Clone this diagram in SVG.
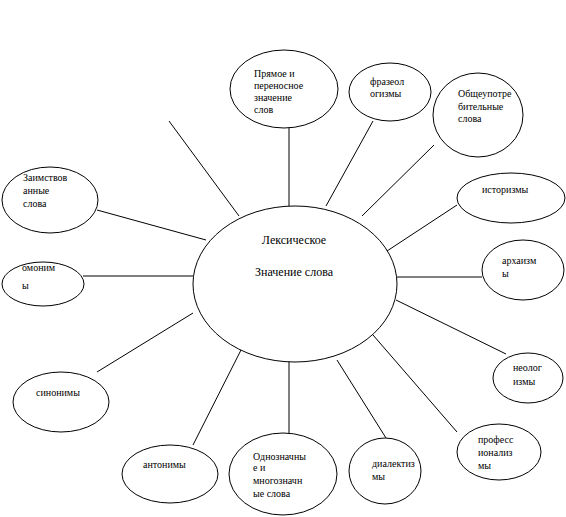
<svg xmlns="http://www.w3.org/2000/svg" width="566" height="517" viewBox="0 0 566 517" font-family="'Liberation Serif', serif">
<style>
ellipse{fill:#fff;stroke:#000;stroke-width:1}
line{stroke:#000;stroke-width:1}
text{font-family:'Liberation Serif','DejaVu Serif',serif;font-size:10px;fill:#000}
.c{font-size:12px}
</style>
<rect width="566" height="517" fill="#fff"/>
<g id="connectors">
<line x1="289" y1="127" x2="289" y2="206"/>
<line x1="373" y1="121" x2="326" y2="206"/>
<line x1="434" y1="145" x2="362" y2="216"/>
<line x1="169" y1="121" x2="239" y2="216"/>
<line x1="97" y1="210" x2="206" y2="240"/>
<line x1="83" y1="276" x2="193" y2="276"/>
<line x1="457" y1="205" x2="387" y2="251"/>
<line x1="397" y1="277" x2="482" y2="277"/>
<line x1="396" y1="300" x2="506" y2="354"/>
<line x1="373" y1="335" x2="457" y2="432"/>
<line x1="337" y1="360" x2="386" y2="438"/>
<line x1="289" y1="361" x2="289" y2="433"/>
<line x1="241" y1="350" x2="193" y2="445"/>
<line x1="97" y1="372" x2="193" y2="313"/>
</g>
<g id="center">
<ellipse cx="295" cy="284" rx="102" ry="78"/>
<text class="c" x="294" y="244" text-anchor="middle">Лексическое</text>
<text class="c" x="294" y="276" text-anchor="middle">Значение слова</text>
</g>
<g id="n-pryamoe">
<ellipse cx="284" cy="89" rx="54" ry="39"/>
<text x="254" y="77">Прямое и</text>
<text x="254" y="89">переносное</text>
<text x="254" y="101">значение</text>
<text x="254" y="113">слов</text>
</g>
<g id="n-frazeol">
<ellipse cx="390" cy="92" rx="41" ry="29"/>
<text x="370" y="85">фразеол</text>
<text x="370" y="97">огизмы</text>
</g>
<g id="n-obshche">
<ellipse cx="478" cy="115" rx="45" ry="42"/>
<text x="458" y="97">Общеупотре</text>
<text x="458" y="110">бительные</text>
<text x="458" y="122">слова</text>
</g>
<g id="n-zaimstv">
<ellipse cx="50" cy="200" rx="48" ry="33"/>
<text x="23" y="181">Заимствов</text>
<text x="23" y="194">анные</text>
<text x="23" y="207">слова</text>
</g>
<g id="n-omonimy">
<ellipse cx="43" cy="284" rx="41" ry="22"/>
<text x="22" y="271">омоним</text>
<text x="22" y="289">ы</text>
</g>
<g id="n-istorizmy">
<ellipse cx="511" cy="198" rx="54" ry="25"/>
<text x="482" y="193">историзмы</text>
</g>
<g id="n-arhaizmy">
<ellipse cx="523" cy="270" rx="41" ry="30"/>
<text x="502" y="264">архаизм</text>
<text x="502" y="277">ы</text>
</g>
<g id="n-neologizmy">
<ellipse cx="528" cy="378" rx="35" ry="25"/>
<text x="513" y="371">неолог</text>
<text x="513" y="385">измы</text>
</g>
<g id="n-profess">
<ellipse cx="499" cy="452" rx="42" ry="28"/>
<text x="478" y="443">професс</text>
<text x="478" y="456">ионализ</text>
<text x="478" y="469">мы</text>
</g>
<g id="n-dialekt">
<ellipse cx="385" cy="471" rx="36" ry="33"/>
<text x="372" y="467">диалектиз</text>
<text x="372" y="480">мы</text>
</g>
<g id="n-odnoznach">
<ellipse cx="283" cy="474" rx="54" ry="41"/>
<text x="253" y="460">Однозначны</text>
<text x="253" y="471">е и</text>
<text x="253" y="484">многозначн</text>
<text x="253" y="497">ые слова</text>
</g>
<g id="n-antonimy">
<ellipse cx="170" cy="474" rx="48" ry="29"/>
<text x="143" y="468">антонимы</text>
</g>
<g id="n-sinonimy">
<ellipse cx="61" cy="402" rx="48" ry="30"/>
<text x="36" y="396">синонимы</text>
</g>
</svg>
